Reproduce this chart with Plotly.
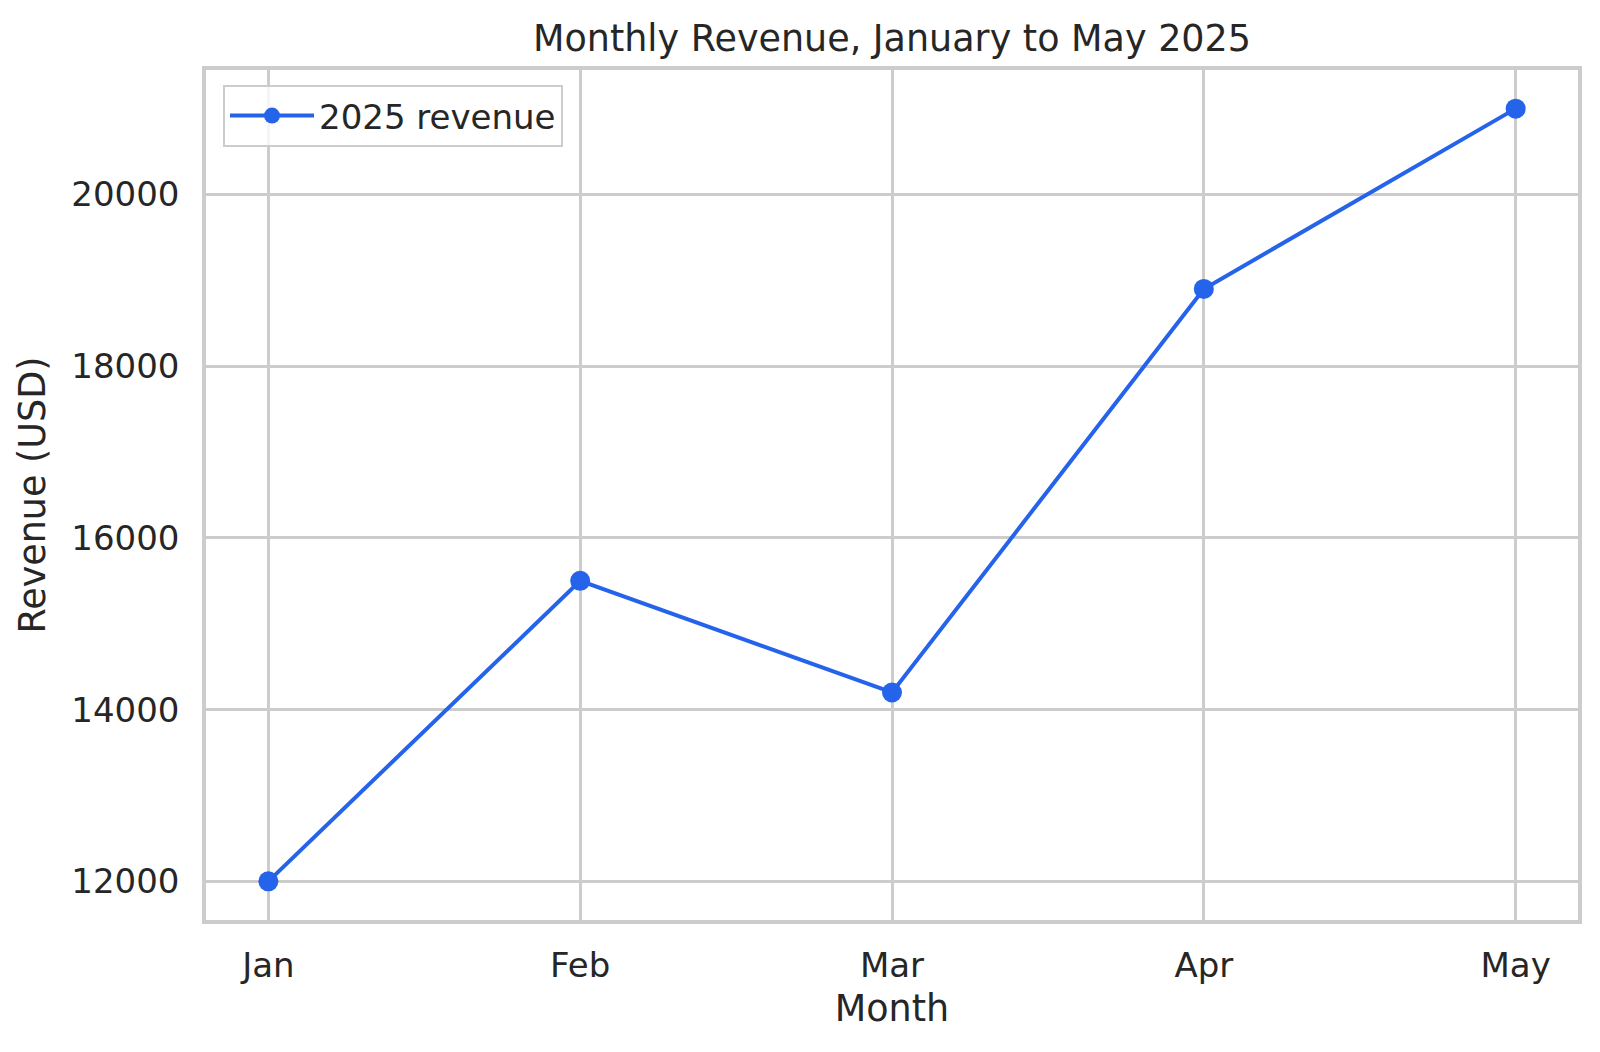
import plotly.graph_objects as go

months = ["Jan", "Feb", "Mar", "Apr", "May"]
revenue = [12000, 15500, 14200, 18900, 21000]
y_ticks = [12000, 14000, 16000, 18000, 20000]
series_name = "2025 revenue"

FONT = "DejaVu Sans"
TXT = "#262626"
GRID = "#cccccc"

fig = go.Figure()
fig.add_trace(go.Scatter(
    x=list(range(len(months))), y=revenue, mode="lines+markers", name=series_name,
    line=dict(color="#2563eb", width=4),
    marker=dict(color="#2563eb", size=20),
))

fig.update_layout(
    width=1600, height=1052,
    margin=dict(l=206, r=22, t=70, b=132),
    paper_bgcolor="white", plot_bgcolor="white",
    font=dict(family=FONT, color=TXT, size=34),
    title=dict(text="Monthly Revenue, January to May 2025", x=0.5, xref="paper", xanchor="center",
               y=1 - 38 / 1052, yanchor="middle", font=dict(size=36.5, color=TXT, family=FONT)),
    showlegend=True,
    legend=dict(x=(223 - 206) / (1578 - 206), y=1 - (85 - 70) / (920 - 70), xanchor="left", yanchor="top",
                bgcolor="rgba(255,255,255,0.8)", bordercolor=GRID, borderwidth=2,
                font=dict(size=34, color=TXT, family=FONT), itemwidth=84),
)
fig.update_xaxes(
    range=[-0.2, 4.2], tickmode="array", tickvals=list(range(len(months))), ticktext=months,
    showgrid=True, gridcolor=GRID, gridwidth=2.6, zeroline=False,
    showline=True, linecolor=GRID, linewidth=3.5, mirror=True,
    ticks="", ticklabelstandoff=12,
    title=dict(text="Month", font=dict(size=36.5, color=TXT, family=FONT), standoff=13),
    tickfont=dict(size=34, color=TXT, family=FONT),
)
fig.update_yaxes(
    range=[11550, 21450], tickmode="array", tickvals=y_ticks, ticktext=[str(v) for v in y_ticks],
    showgrid=True, gridcolor=GRID, gridwidth=2.6, zeroline=False,
    showline=True, linecolor=GRID, linewidth=3.5, mirror=True,
    ticks="", ticklabelstandoff=16,
    title=dict(text="Revenue (USD)", font=dict(size=36.5, color=TXT, family=FONT), standoff=16),
    tickfont=dict(size=34, color=TXT, family=FONT),
)

fig.write_html("out.html")
